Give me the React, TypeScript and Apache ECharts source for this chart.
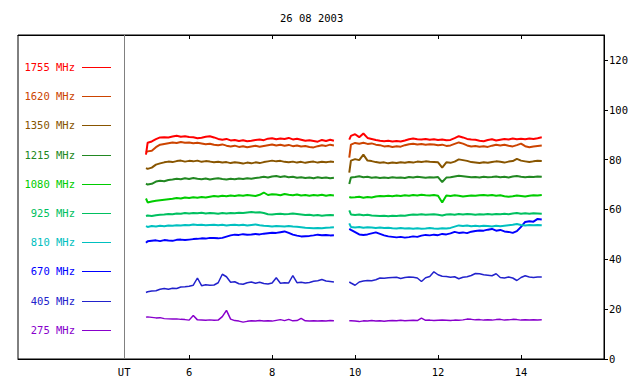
import React, { useEffect, useRef } from 'react';
import * as echarts from 'echarts';

const TITLE = '26 08 2003';
const FREQS = ['1755 MHz', '1620 MHz', '1350 MHz', '1215 MHz', '1080 MHz', '925 MHz', '810 MHz', '670 MHz', '405 MHz', '275 MHz'];
const COLORS = ['#ff0000', '#cc4400', '#885500', '#228822', '#00cc00', '#00c060', '#00c0c0', '#0000ff', '#2222cc', '#8800cc'];

const X_TICKS = [6, 8, 10, 12, 14];
const Y_TICKS = [0, 20, 40, 60, 80, 100, 120];
const UT_POS = 4.434;
const GAP_T = 9.67;

const T1 = [4.96, 5.0, 5.1, 5.2, 5.3, 5.4, 5.5, 5.6, 5.7, 5.8, 5.9, 6.0, 6.1, 6.2, 6.3, 6.4, 6.5, 6.6, 6.7, 6.8, 6.9, 7.0, 7.1, 7.2, 7.3, 7.4, 7.5, 7.6, 7.7, 7.8, 7.9, 8.0, 8.1, 8.2, 8.3, 8.4, 8.5, 8.6, 8.7, 8.8, 8.9, 9.0, 9.1, 9.2, 9.3, 9.4, 9.49];
const T2 = [9.86, 9.9, 10.0, 10.1, 10.2, 10.3, 10.4, 10.5, 10.6, 10.7, 10.8, 10.9, 11.0, 11.1, 11.2, 11.3, 11.4, 11.5, 11.6, 11.7, 11.8, 11.9, 12.0, 12.1, 12.2, 12.3, 12.4, 12.5, 12.6, 12.7, 12.8, 12.9, 13.0, 13.1, 13.2, 13.3, 13.4, 13.5, 13.6, 13.7, 13.8, 13.9, 14.0, 14.1, 14.2, 14.3, 14.4, 14.5];

const a1755 = [82.0, 86.8, 87.3, 88.2, 88.9, 89.0, 88.9, 89.3, 89.6, 89.2, 89.4, 89.1, 89.0, 88.6, 88.8, 89.2, 89.4, 88.9, 88.3, 88.0, 88.3, 87.7, 87.9, 87.5, 87.8, 87.4, 87.6, 87.9, 88.1, 87.8, 88.4, 88.6, 88.2, 88.5, 88.3, 88.7, 88.1, 88.4, 88.0, 87.6, 87.8, 87.5, 87.2, 87.9, 87.5, 88.0, 87.6];
const b1755 = [88.0, 89.5, 90.2, 89.0, 90.5, 88.7, 88.3, 87.9, 87.6, 87.4, 87.6, 87.3, 87.5, 87.3, 87.7, 88.2, 88.5, 88.2, 88.1, 88.3, 88.0, 88.2, 87.9, 88.1, 87.8, 87.9, 88.6, 89.4, 88.9, 88.3, 88.1, 88.0, 87.6, 87.4, 87.9, 88.2, 87.7, 88.0, 88.3, 88.1, 88.5, 88.2, 88.4, 88.2, 88.5, 88.3, 88.6, 89.0];
const a1620 = [83.0, 83.3, 83.6, 85.0, 86.0, 86.3, 86.6, 86.9, 86.7, 87.1, 86.8, 86.9, 86.6, 86.8, 86.5, 86.2, 86.4, 86.0, 85.8, 86.1, 85.6, 85.3, 85.6, 85.1, 85.4, 85.0, 85.3, 85.6, 85.2, 85.5, 85.8, 86.1, 85.7, 86.0, 85.6, 85.9, 85.4, 85.7, 85.3, 85.5, 85.1, 84.9, 85.4, 85.8, 85.5, 86.0, 85.7];
const b1620 = [80.8, 86.0, 86.7, 86.4, 86.8, 86.3, 86.5, 86.0, 85.8, 85.3, 85.5, 85.1, 85.4, 85.2, 85.8, 86.2, 86.4, 86.1, 86.3, 86.0, 86.2, 86.1, 85.8, 86.0, 85.5, 85.7, 86.3, 86.9, 86.4, 85.7, 85.3, 85.5, 85.2, 85.4, 85.1, 85.6, 86.0, 85.7, 86.0, 85.6, 85.3, 85.8, 86.4, 85.4, 85.0, 85.3, 85.5, 85.7];
const a1350 = [76.6, 76.3, 76.8, 78.0, 78.5, 78.9, 79.2, 79.0, 79.4, 79.6, 79.2, 79.5, 79.3, 79.6, 79.1, 79.4, 79.2, 78.9, 79.1, 78.8, 79.0, 78.6, 78.9, 78.7, 78.4, 78.8, 78.5, 78.9, 78.6, 79.0, 79.3, 79.6, 79.3, 79.5, 79.1, 78.9, 79.2, 78.8, 79.1, 78.7, 79.0, 79.2, 78.8, 79.1, 78.9, 79.2, 79.0];
const b1350 = [74.8, 79.6, 80.2, 79.8, 82.0, 79.6, 79.4, 79.0, 78.7, 78.9, 78.5, 78.8, 78.6, 78.9, 78.7, 79.0, 78.8, 79.2, 79.0, 79.3, 79.1, 79.0, 78.9, 76.8, 78.9, 78.7, 79.2, 80.1, 79.8, 79.5, 79.0, 78.8, 78.6, 78.9, 78.7, 79.0, 79.3, 79.1, 78.8, 79.2, 79.4, 80.3, 79.6, 79.3, 79.0, 79.3, 79.5, 79.4];
const a1215 = [70.4, 70.0, 70.3, 71.2, 71.5, 71.3, 71.8, 72.0, 72.3, 72.1, 72.5, 72.2, 72.6, 72.3, 72.1, 72.4, 72.0, 72.3, 72.5, 72.2, 72.0, 72.3, 72.1, 72.4, 72.2, 72.5, 72.3, 72.6, 72.8, 73.1, 72.8, 73.2, 73.4, 73.0, 73.3, 72.9, 73.1, 72.7, 72.9, 72.6, 72.8, 72.5, 72.9, 72.6, 72.8, 72.5, 72.7];
const b1215 = [70.2, 72.8, 73.0, 73.3, 72.9, 73.1, 72.7, 72.9, 72.6, 72.8, 72.6, 72.9, 72.7, 72.8, 72.6, 73.0, 72.8, 73.1, 72.9, 72.7, 72.9, 72.8, 73.0, 71.0, 72.8, 72.9, 73.2, 73.5, 73.3, 73.1, 72.9, 73.0, 72.8, 73.1, 72.9, 73.0, 73.2, 72.9, 73.1, 72.8, 73.2, 73.4, 73.1, 72.9, 73.1, 73.0, 73.2, 73.1];
const a1080 = [64.4, 62.8, 63.2, 63.5, 63.7, 63.9, 64.1, 64.3, 64.6, 64.4, 64.8, 64.6, 64.9, 64.7, 65.0, 64.8, 65.1, 65.4, 65.2, 65.5, 65.3, 65.6, 65.4, 65.7, 65.5, 65.8, 65.6, 65.4, 65.9, 66.8, 65.8, 66.1, 66.0, 65.7, 66.2, 65.9, 65.7, 66.0, 65.6, 65.8, 65.5, 65.8, 65.6, 65.9, 65.5, 65.8, 65.6];
const b1080 = [65.0, 64.8, 64.9, 65.1, 64.7, 65.0, 64.8, 65.2, 65.4, 65.3, 65.5, 65.3, 65.6, 65.4, 65.7, 65.5, 65.8, 65.6, 65.9, 65.7, 65.6, 65.8, 65.5, 62.8, 65.6, 65.4, 65.7, 65.5, 65.2, 65.4, 65.6, 65.5, 65.7, 65.8, 65.6, 65.8, 65.5, 65.7, 65.3, 65.1, 65.3, 65.6, 65.4, 65.2, 65.5, 65.7, 65.6, 65.8];
const a925 = [57.4, 57.6, 57.4, 57.7, 57.9, 58.0, 58.2, 58.1, 58.4, 58.3, 58.6, 58.4, 58.6, 58.5, 58.7, 58.4, 58.6, 58.5, 58.3, 58.6, 58.4, 58.6, 58.5, 58.7, 58.6, 58.8, 59.0, 58.8, 58.9, 58.6, 58.1, 58.0, 58.2, 58.3, 58.1, 58.2, 58.4, 58.2, 58.0, 57.8, 57.9, 57.6, 57.8, 57.5, 57.7, 57.8, 57.7];
const b925 = [59.6, 58.0, 57.8, 58.0, 57.7, 57.9, 57.6, 57.5, 57.4, 57.5, 57.3, 57.5, 57.4, 57.6, 57.5, 57.8, 58.0, 57.9, 58.1, 57.9, 58.0, 58.1, 57.9, 57.6, 58.0, 58.1, 57.9, 58.2, 58.0, 58.2, 58.1, 57.9, 58.1, 58.0, 58.2, 58.0, 58.2, 58.1, 58.3, 58.1, 58.4, 58.6, 58.3, 58.5, 58.3, 58.5, 58.4, 58.3];
const a810 = [53.3, 53.0, 53.4, 53.2, 53.5, 53.3, 53.6, 53.5, 53.7, 53.6, 53.8, 53.7, 54.0, 53.8, 53.9, 53.7, 53.8, 53.9, 53.7, 53.9, 53.6, 53.8, 53.9, 53.7, 53.9, 53.6, 53.8, 54.0, 53.7, 53.5, 53.4, 53.2, 53.4, 53.3, 53.2, 53.4, 53.2, 53.1, 52.9, 52.7, 52.6, 52.5, 52.6, 52.5, 52.7, 52.8, 52.9];
const b810 = [54.4, 53.0, 52.8, 53.0, 52.7, 52.9, 52.8, 52.6, 52.8, 52.6, 52.7, 52.5, 52.4, 52.6, 52.4, 52.5, 52.3, 52.5, 52.3, 52.4, 52.6, 52.4, 52.3, 52.5, 52.4, 52.6, 53.1, 53.6, 53.4, 53.6, 53.3, 53.5, 53.3, 53.5, 53.4, 53.2, 53.5, 53.3, 53.5, 53.7, 53.9, 54.2, 53.8, 53.6, 53.8, 53.7, 53.8, 53.7];
const a670 = [46.6, 47.2, 47.4, 47.6, 47.3, 47.7, 47.5, 47.4, 47.8, 47.9, 47.7, 47.9, 48.1, 48.2, 48.4, 48.3, 48.6, 48.5, 48.4, 48.6, 49.1, 49.6, 49.9, 49.8, 50.1, 49.9, 50.0, 50.2, 50.0, 50.3, 50.5, 50.7, 50.6, 50.9, 51.2, 50.6, 49.9, 49.5, 49.2, 49.3, 49.4, 49.6, 49.9, 49.7, 49.8, 49.6, 49.7];
const b670 = [52.2, 51.8, 50.9, 50.0, 49.8, 50.0, 50.4, 50.8, 50.2, 49.6, 49.2, 49.0, 48.8, 49.0, 48.7, 48.9, 49.2, 49.0, 49.5, 49.8, 49.6, 49.9, 49.7, 50.2, 50.0, 50.4, 51.0, 50.6, 50.8, 50.5, 51.1, 51.4, 51.6, 51.5, 51.9, 52.2, 51.5, 51.8, 51.2, 51.0, 50.6, 51.3, 53.0, 55.0, 55.3, 55.1, 56.2, 56.0];
const a405 = [26.7, 27.0, 27.3, 27.4, 28.0, 28.3, 28.0, 28.4, 28.3, 28.9, 29.0, 29.2, 29.6, 32.5, 29.4, 29.8, 29.6, 29.7, 30.6, 34.0, 33.0, 30.8, 31.0, 30.2, 30.0, 30.6, 30.9, 30.4, 30.8, 30.3, 30.1, 30.5, 32.6, 30.4, 30.6, 30.5, 33.5, 30.6, 30.8, 30.5, 30.7, 31.2, 31.4, 31.9, 31.3, 31.1, 30.9];
const b405 = [30.9, 30.5, 29.6, 30.9, 31.3, 31.5, 31.4, 31.8, 32.5, 32.4, 32.6, 32.7, 32.8, 32.3, 32.7, 32.9, 32.8, 32.5, 31.1, 32.6, 33.1, 35.0, 33.8, 33.2, 33.1, 32.8, 33.0, 32.2, 32.8, 33.0, 33.5, 34.3, 34.2, 33.8, 33.6, 33.4, 34.2, 32.7, 32.5, 32.9, 32.5, 31.5, 32.7, 33.4, 32.9, 32.7, 32.9, 32.9];
const a275 = [16.8, 16.9, 16.7, 16.5, 16.6, 16.2, 16.1, 16.0, 16.1, 15.9, 15.8, 15.6, 17.5, 15.7, 15.6, 15.5, 15.7, 15.5, 15.6, 17.0, 19.5, 16.0, 15.4, 15.2, 14.8, 15.1, 15.3, 15.2, 15.4, 15.2, 15.3, 15.2, 15.5, 15.8, 15.4, 15.9, 15.3, 15.4, 16.3, 15.3, 15.2, 15.3, 15.2, 15.3, 15.2, 15.4, 15.3];
const b275 = [15.3, 15.3, 15.2, 15.0, 15.3, 15.2, 15.4, 15.2, 15.3, 15.1, 15.3, 15.4, 15.3, 15.5, 15.3, 15.4, 15.5, 15.4, 16.4, 15.5, 15.6, 15.4, 15.5, 15.6, 15.5, 15.4, 15.6, 15.5, 15.7, 16.0, 15.9, 15.7, 15.8, 15.6, 15.7, 15.6, 15.8, 15.9, 15.6, 15.7, 15.9, 15.8, 15.6, 15.7, 15.6, 15.7, 15.6, 15.7];

const SEG_A = [a1755, a1620, a1350, a1215, a1080, a925, a810, a670, a405, a275];
const SEG_B = [b1755, b1620, b1350, b1215, b1080, b925, b810, b670, b405, b275];

const FONT = 'DejaVu Sans Mono';
const FS = 10.5;

export default function App() {
  const ref = useRef<HTMLDivElement>(null);
  useEffect(() => {
    const chart = echarts.init(ref.current as HTMLDivElement, null, { renderer: 'svg' });
    const series: any[] = FREQS.map((name, i) => ({
      name,
      type: 'line',
      showSymbol: false,
      symbol: 'none',
      z: 20 - i,
      lineStyle: { color: COLORS[i], width: i >= 8 ? 1.5 : 2 },
      itemStyle: { color: COLORS[i] },
      data: [
        ...T1.map((t, k) => [t, SEG_A[i][k]]),
        [GAP_T, '-'],
        ...T2.map((t, k) => [t, SEG_B[i][k]]),
      ],
      markLine:
        i === 0
          ? {
              silent: true,
              symbol: ['none', 'none'],
              label: { show: false },
              lineStyle: { color: '#808080', type: 'solid', width: 1 },
              data: [{ xAxis: UT_POS }],
            }
          : undefined,
    }));

    const legendY0 = 67;
    const legendStep = 29.2;
    const graphic: any[] = [];
    FREQS.forEach((name, i) => {
      const y = legendY0 + i * legendStep;
      graphic.push({
        type: 'text',
        x: 75,
        y,
        style: {
          text: name,
          fill: COLORS[i],
          fontSize: FS,
          fontFamily: FONT,
          align: 'right',
          verticalAlign: 'middle',
          textAlign: 'right',
          textVerticalAlign: 'middle',
        },
      });
      graphic.push({
        type: 'line',
        shape: { x1: 82, y1: Math.round(y) + 0.5, x2: 111, y2: Math.round(y) + 0.5 },
        style: { stroke: COLORS[i], lineWidth: 1 },
      });
    });

    const axisText = { color: '#000', fontSize: FS, fontFamily: FONT };

    chart.setOption({
      animation: false,
      backgroundColor: '#fff',
      title: {
        text: TITLE,
        left: 280,
        top: 12,
        padding: 0,
        textStyle: { fontSize: FS, fontWeight: 'normal', fontFamily: FONT, color: '#000' },
      },
      grid: {
        left: 18,
        right: 36,
        top: 35,
        bottom: 25,
        show: true,
        borderColor: '#000',
        borderWidth: 1,
        backgroundColor: 'transparent',
        containLabel: false,
        outerBoundsMode: 'none',
      },
      xAxis: [
        {
          type: 'value',
          min: 1.875,
          max: 16,
          position: 'bottom',
          splitLine: { show: false },
          axisLine: { show: true, lineStyle: { color: '#000', width: 1 } },
          axisTick: { show: true, inside: true, length: 4, customValues: X_TICKS, lineStyle: { color: '#000' } },
          axisLabel: {
            ...axisText,
            margin: 7,
            customValues: [UT_POS, ...X_TICKS],
            formatter: (v: number) => (Math.abs(v - UT_POS) < 0.01 ? 'UT' : String(v)),
          },
        },
        {
          type: 'value',
          min: 1.875,
          max: 16,
          position: 'top',
          splitLine: { show: false },
          axisLine: { show: true, lineStyle: { color: '#000', width: 1 } },
          axisTick: { show: true, inside: true, length: 4, customValues: X_TICKS, lineStyle: { color: '#000' } },
          axisLabel: { show: false },
        },
      ],
      yAxis: [
        {
          type: 'value',
          min: 0,
          max: 130,
          position: 'right',
          splitLine: { show: false },
          axisLine: { show: true, lineStyle: { color: '#000', width: 1 } },
          axisTick: { show: true, inside: false, length: 4, customValues: Y_TICKS, lineStyle: { color: '#000' } },
          axisLabel: { ...axisText, margin: 5, customValues: Y_TICKS },
        },
      ],
      graphic,
      series,
    });
    return () => chart.dispose();
  }, []);
  return (
    <div
      ref={ref}
      style={{ position: 'absolute', left: 0, top: 0, width: 640, height: 384, background: '#fff' }}
    />
  );
}
